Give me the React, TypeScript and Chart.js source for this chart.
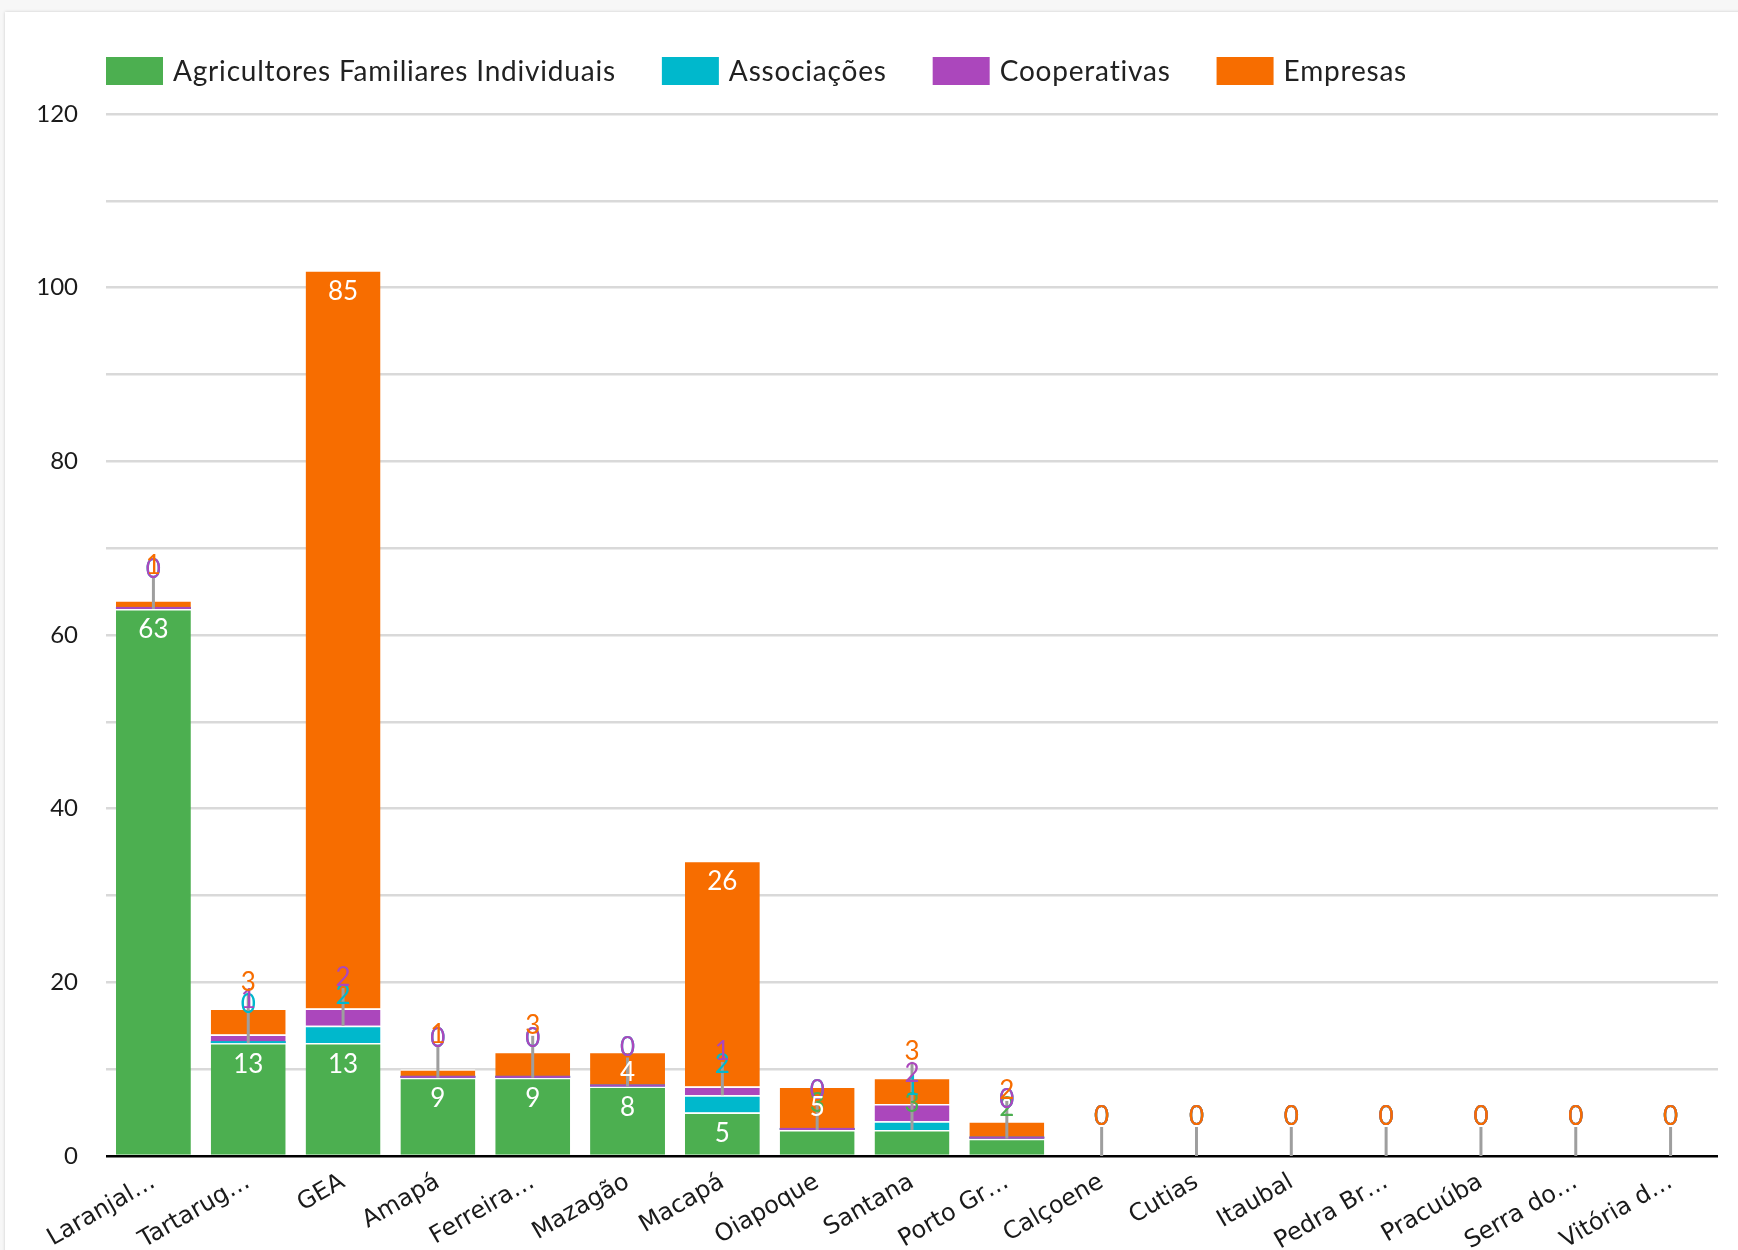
import React, { useEffect, useRef } from 'react';
import { Chart, registerables } from 'chart.js';

Chart.register(...registerables);

const categories = ['Laranjal…', 'Tartarug…', 'GEA', 'Amapá', 'Ferreira…', 'Mazagão', 'Macapá', 'Oiapoque', 'Santana', 'Porto Gr…', 'Calçoene', 'Cutias', 'Itaubal', 'Pedra Br…', 'Pracuúba', 'Serra do…', 'Vitória d…'];
const agricultores = [63, 13, 13, 9, 9, 8, 5, 3, 3, 2, 0, 0, 0, 0, 0, 0, 0];
const associacoes = [0, 0, 2, 0, 0, 0, 2, 0, 1, 0, 0, 0, 0, 0, 0, 0, 0];
const cooperativas = [0, 1, 2, 0, 0, 0, 1, 0, 2, 0, 0, 0, 0, 0, 0, 0, 0];
const empresas = [1, 3, 85, 1, 3, 4, 26, 5, 3, 2, 0, 0, 0, 0, 0, 0, 0];
const seriesNames = ['Agricultores Familiares Individuais', 'Associações', 'Cooperativas', 'Empresas'];
const seriesColors = ['#4caf50', '#00b8cc', '#ab47bc', '#f76d00'];
const seriesValues = [agricultores, associacoes, cooperativas, empresas];
const yMax = 120;
const yStep = 10;
const yLabelEvery = 20;

const FONT = 'Lato, "Noto Sans", sans-serif';

const legendPlugin = {
  id: 'customLegend',
  afterDraw(chart: any) {
    const { ctx, chartArea } = chart;
    ctx.save();
    let x = chartArea.left;
    const cy = 71;
    ctx.font = `28px ${FONT}`;
    try { (ctx as any).letterSpacing = '0.8px'; } catch (e) { /* ignore */ }
    ctx.textBaseline = 'middle';
    ctx.textAlign = 'left';
    seriesNames.forEach((name, d) => {
      ctx.fillStyle = seriesColors[d];
      ctx.fillRect(x, cy - 14, 57, 28);
      ctx.fillStyle = '#212121';
      ctx.fillText(name, x + 67, cy + 1);
      x += 67 + ctx.measureText(name).width + 46;
    });
    ctx.restore();
  },
};

const calloutPlugin = {
  id: 'callouts',
  afterDatasetsDraw(chart: any) {
    const { ctx } = chart;
    const metas = chart.data.datasets.map((_: any, d: number) => chart.getDatasetMeta(d));
    const n = chart.data.labels.length;
    ctx.save();
    // thin lines for zero-valued segments inside a stack
    for (let i = 0; i < n; i++) {
      const vals: number[] = chart.data.datasets.map((ds: any) => ds.data[i]);
      const total = vals.reduce((a, b) => a + b, 0);
      let cum = 0;
      vals.forEach((v, d) => {
        const el = metas[d].data[i];
        if (v === 0 && total > 0 && cum > 0 && cum < total) {
          ctx.fillStyle = seriesColors[d];
          ctx.fillRect(el.x - el.width / 2, el.y - 2, el.width, 2);
        }
        cum += v;
      });
    }
    ctx.font = `26px ${FONT}`;
    ctx.textAlign = 'center';
    ctx.textBaseline = 'middle';
    for (let i = 0; i < n; i++) {
      const vals: number[] = chart.data.datasets.map((ds: any) => ds.data[i]);
      const inside: any[] = [];
      const outs: any[] = [];
      let startY: number | null = null;
      let cx = 0;
      vals.forEach((v, d) => {
        const el = metas[d].data[i];
        cx = el.x;
        const h = el.base - el.y;
        if (h >= 30) {
          inside.push({ t: String(v), x: el.x, y: el.y + 21 });
        } else {
          if (startY === null) startY = el.y;
          outs.push({ t: String(v), x: el.x, y: (el.y + el.base) / 2 - 39, c: seriesColors[d] });
        }
      });
      if (outs.length && startY !== null) {
        const topY = Math.min(...outs.map((o) => o.y));
        ctx.strokeStyle = '#9e9e9e';
        ctx.lineWidth = 3;
        ctx.beginPath();
        ctx.moveTo(cx, startY);
        ctx.lineTo(cx, topY + 10);
        ctx.stroke();
        outs.forEach((o) => {
          ctx.fillStyle = o.c;
          ctx.fillText(o.t, o.x, o.y);
        });
      }
      inside.forEach((l) => {
        ctx.fillStyle = '#ffffff';
        ctx.fillText(l.t, l.x, l.y);
      });
    }
    ctx.restore();
  },
};

export default function App() {
  const ref = useRef<HTMLCanvasElement | null>(null);
  useEffect(() => {
    if (!ref.current) return;
    const chart = new Chart(ref.current, {
      type: 'bar',
      data: {
        labels: categories,
        datasets: seriesNames.map((name, d) => ({
          label: name,
          data: seriesValues[d],
          backgroundColor: seriesColors[d],
          borderColor: '#ffffff',
          borderWidth: { top: 1.5, right: 0, bottom: 0, left: 0 },
          borderSkipped: 'start',
          barPercentage: 0.79,
          categoryPercentage: 1,
          stack: 's',
        })),
      },
      options: {
        responsive: false,
        animation: false,
        devicePixelRatio: 1,
        events: [],
        layout: { padding: { top: 114, right: 20, bottom: 0, left: 0 } },
        plugins: {
          legend: { display: false },
          tooltip: { enabled: false },
        },
        scales: {
          x: {
            stacked: true,
            grid: { display: false },
            border: { display: false },
            ticks: {
              autoSkip: false,
              minRotation: 30,
              maxRotation: 30,
              padding: 4,
              color: '#1a1a1a',
              font: { family: '"DejaVu Sans", sans-serif', size: 24 },
            },
            afterFit: (scale: any) => {
              scale.height = 94;
            },
          },
          y: {
            stacked: true,
            min: 0,
            max: yMax,
            border: { display: false },
            grid: {
              drawTicks: false,
              lineWidth: 2.5,
              color: (c: any) => (c.tick && c.tick.value === 0 ? '#000000' : '#d9d9d9'),
            },
            ticks: {
              stepSize: yStep,
              padding: 28,
              color: '#1a1a1a',
              font: { family: FONT, size: 24 },
              callback: (v: any) => (Number(v) % yLabelEvery === 0 ? String(v) : ''),
            },
            afterFit: (scale: any) => {
              scale.width = 106;
            },
          },
        },
      },
      plugins: [calloutPlugin, legendPlugin],
    });
    return () => chart.destroy();
  }, []);

  return (
    <div style={{ position: 'absolute', left: 0, top: 0, width: 1738, height: 1250, background: '#f7f7f7', overflow: 'hidden' }}>
      <div style={{ position: 'absolute', left: 5, top: 12, width: 1760, height: 1260, background: '#ffffff', boxShadow: '0 0 3px rgba(0,0,0,0.18)' }} />
      <canvas ref={ref} width={1738} height={1250} style={{ position: 'absolute', left: 0, top: 0, width: 1738, height: 1250 }} />
    </div>
  );
}
